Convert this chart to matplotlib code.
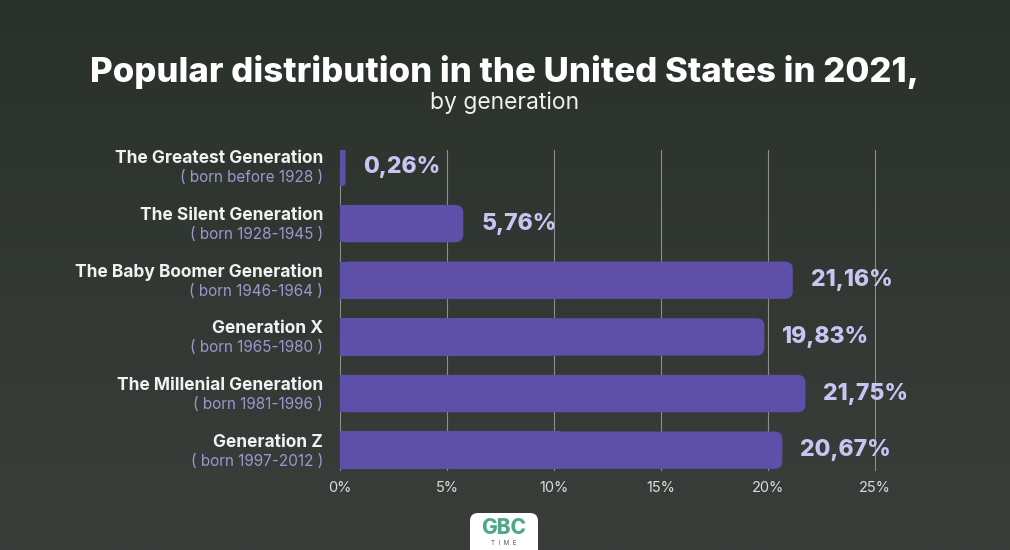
import numpy as np
import matplotlib
matplotlib.use('Agg')
import matplotlib.pyplot as plt
from matplotlib.patches import FancyBboxPatch, Rectangle

# data
generations = ['The Greatest Generation', 'The Silent Generation', 'The Baby Boomer Generation',
               'Generation X', 'The Millenial Generation', 'Generation Z']
born = ['( born before 1928 )', '( born 1928-1945 )', '( born 1946-1964 )',
        '( born 1965-1980 )', '( born 1981-1996 )', '( born 1997-2012 )']
shares = [0.26, 5.76, 21.16, 19.83, 21.75, 20.67]
value_labels = ['0,26%', '5,76%', '21,16%', '19,83%', '21,75%', '20,67%']
xticks = [0, 5, 10, 15, 20, 25]
xtick_labels = ['0%', '5%', '10%', '15%', '20%', '25%']

plt.rcParams['font.family'] = ['Inter', 'DejaVu Sans']

W, H = 1010, 550
fig = plt.figure(figsize=(W / 100, H / 100), dpi=100)

# background gradient
bg = fig.add_axes([0, 0, 1, 1], zorder=-10)
top = np.array([0x2a, 0x31, 0x2a]) / 255
bot = np.array([0x3a, 0x3e, 0x3b]) / 255
t = np.linspace(0, 1, 256)[:, None]
grad = top[None, :] * (1 - t) + bot[None, :] * t
bg.imshow(grad[:, None, :].repeat(2, axis=1), aspect='auto', extent=[0, 1, 0, 1])
bg.set_axis_off()

# main axes: x 340..875 px, y 150..470 px
ax = fig.add_axes([340 / W, 1 - 470 / H, 535 / W, 320 / H])
ax.set_facecolor('none')
ax.set_xlim(0, 25)
ax.set_ylim(5.35, -0.3)

bar_color = '#5e50a8'
bar_h = 0.66
px_x = 535 / 25      # px per x unit
px_y = 320 / 5.65    # px per y unit
r = 8 / px_x
for i, v in enumerate(shares):
    rs = min(r, v / 2)
    ax.add_patch(FancyBboxPatch((0, i - bar_h / 2), v, bar_h,
                                boxstyle=f'round,pad=0,rounding_size={rs}',
                                mutation_aspect=px_x / px_y,
                                fc=bar_color, ec='none', zorder=3))
    ax.add_patch(Rectangle((0, i - bar_h / 2), v / 2, bar_h, fc=bar_color, ec='none', zorder=3))
    ax.annotate(value_labels[i], (v, i), xytext=(18, 0), textcoords='offset pixels',
                ha='left', va='center', fontsize=16.5, fontweight='heavy',
                color='#cbc4f2', zorder=4)
    ax.annotate(generations[i], (0, i), xytext=(-17, 8), textcoords='offset pixels',
                ha='right', va='center', fontsize=12.5, fontweight='bold',
                color='#f2f2f2')
    ax.annotate(born[i], (0, i), xytext=(-17, -11), textcoords='offset pixels',
                ha='right', va='center', fontsize=11, color='#9d97cf')

for x in xticks:
    ax.axvline(x, color='#8a8f8a', lw=0.8, zorder=1, clip_on=False)

ax.set_xticks(xticks)
ax.set_xticklabels(xtick_labels, fontsize=10.5, color='#dcdcdc')
ax.tick_params(axis='x', length=0, pad=8)
ax.set_yticks([])
for s in ax.spines.values():
    s.set_visible(False)

fig.text(0.5, 1 - 72 / H, 'Popular distribution in the United States in 2021,',
         ha='center', va='center', fontsize=25, fontweight='heavy', color='white')
fig.text(0.5, 1 - 103 / H, 'by generation', ha='center', va='center',
         fontsize=16.5, color='#f0f0f0')

# logo
logo = fig.add_axes([0, 0, 1, 1], zorder=5)
logo.set_xlim(0, W)
logo.set_ylim(H, 0)
logo.set_axis_off()
logo.add_patch(FancyBboxPatch((470, 513), 68, 60, boxstyle='round,pad=0,rounding_size=8',
                              fc='white', ec='none'))
logo.text(504, 528, 'GBC', ha='center', va='center', fontsize=15, fontweight='heavy',
          color='#4fa88a')
logo.text(504, 543, 'T  I  M  E', ha='center', va='center', fontsize=4.5, color='#555555')

fig.savefig('out.png', dpi=100)
